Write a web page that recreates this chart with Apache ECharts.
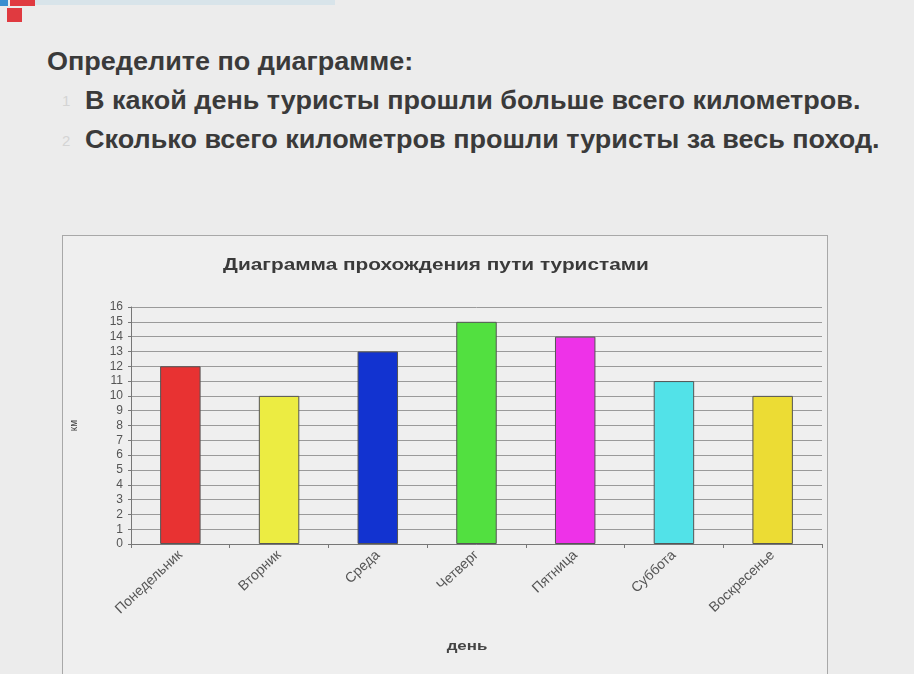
<!DOCTYPE html>
<html>
<head>
<meta charset="utf-8">
<script src="https://cdn.jsdelivr.net/npm/echarts@6/dist/echarts.min.js"></script>
<style>
  html, body { margin:0; padding:0; width:914px; height:674px; overflow:hidden; background:#ececec; font-family:"Liberation Sans", Arial, sans-serif; }
  .sq { position:absolute; }
  .txt { position:absolute; color:#3a3a3a; font-weight:bold; font-size:25px; white-space:nowrap; transform:scaleX(1.08); transform-origin:0 50%; }
  .num { position:absolute; color:#d4d4d4; font-size:15px; }
  #box { position:absolute; left:62px; top:235px; width:764px; height:460px; border:1px solid #a8a8a8; background:#efefef; }
  #chart { position:absolute; left:0; top:0; width:914px; height:674px; }
</style>
</head>
<body>
<div class="sq" style="left:35px;top:0;width:300px;height:5px;background:#d8e4ea;"></div>
<div class="sq" style="left:0;top:0;width:8px;height:6px;background:#3a8fd0;"></div>
<div class="sq" style="left:10px;top:0;width:25px;height:6px;background:#e03a40;"></div>
<div class="sq" style="left:7px;top:8px;width:15px;height:14px;background:#e03a40;"></div>
<div class="txt" style="left:47px;top:47px;">Определите по диаграмме:</div>
<div class="num" style="left:62px;top:92px;">1</div>
<div class="txt" style="left:85px;top:86px;">В какой день туристы прошли больше всего километров.</div>
<div class="num" style="left:62px;top:132px;">2</div>
<div class="txt" style="left:85px;top:125px;">Сколько всего километров прошли туристы за весь поход.</div>
<div id="box"></div>
<div id="chart"></div>
<script>
const days = ["Понедельник", "Вторник", "Среда", "Четверг", "Пятница", "Суббота", "Воскресенье"];
const km = [12, 10, 13, 15, 14, 11, 10];
const barColors = ["#e83232", "#ecec42", "#1233d0", "#52e040", "#ee32e8", "#52e2e8", "#ecdc34"];
const chartTitle = "Диаграмма прохождения пути туристами";
const yName = "км";
const xName = "день";

const chart = echarts.init(document.getElementById('chart'), null, {renderer:'canvas'});
chart.setOption({
  backgroundColor: 'transparent',
  animation: false,
  graphic: [
    { type: 'text', x: 436, y: 266, scaleX: 1.3,
      style: { text: chartTitle, align: 'center', verticalAlign: 'middle',
        font: 'bold 16px "Liberation Sans"', fill: '#3a3a3a' } },
    { type: 'text', x: 467, y: 646, scaleX: 1.3,
      style: { text: xName, align: 'center', verticalAlign: 'middle',
        font: 'bold 13px "Liberation Sans"', fill: '#444' } }
  ],
  grid: { left: 131, right: 92, top: 307, bottom: 130 },
  xAxis: {
    type: 'category', data: days,
    axisLine: { lineStyle: { color: '#777' } },
    axisTick: { show: true, alignWithLabel: false, length: 4, lineStyle: { color: '#777' } },
    axisLabel: { rotate: 43, interval: 0, margin: 9, fontFamily: 'Liberation Sans', fontSize: 14, color: '#555' }
  },
  yAxis: {
    type: 'value', min: 0, max: 16, interval: 1,
    name: yName, nameLocation: 'middle', nameGap: 52, nameRotate: 90,
    nameTextStyle: { fontFamily: 'Liberation Sans', fontSize: 10, color: '#444' },
    axisLine: { show: true, lineStyle: { color: '#777' } },
    axisTick: { show: true, length: 3, lineStyle: { color: '#777' } },
    axisLabel: { fontFamily: 'Liberation Sans', fontSize: 12, color: '#555', margin: 8 },
    splitLine: { lineStyle: { color: '#9a9a9a', width: 1 } }
  },
  series: [{
    type: 'bar', barWidth: '41%',
    data: km.map((v, i) => ({ value: v, itemStyle: { color: barColors[i], borderColor: '#555', borderWidth: 1 } }))
  }]
});
</script>
</body>
</html>
